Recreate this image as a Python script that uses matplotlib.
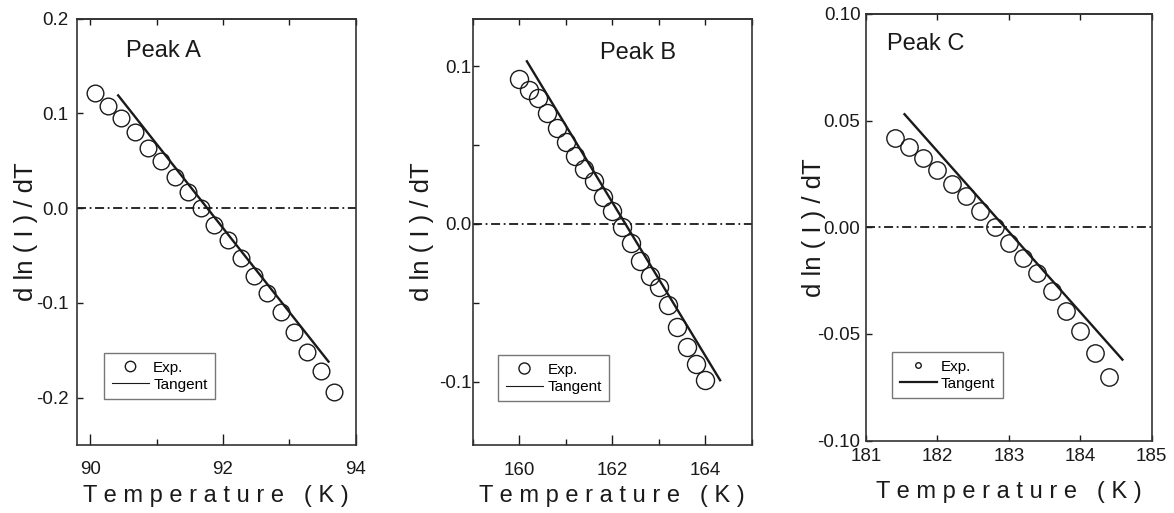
import matplotlib
matplotlib.use("Agg")
import matplotlib.pyplot as plt
from matplotlib.lines import Line2D
from matplotlib.ticker import MultipleLocator

plt.rcParams["font.family"] = ["Liberation Sans", "DejaVu Sans"]
plt.rcParams["axes.unicode_minus"] = False

# Peak A
temp_a = [90.07, 90.27, 90.47, 90.67, 90.87, 91.07, 91.27, 91.47, 91.67, 91.87,
          92.07, 92.27, 92.47, 92.67, 92.87, 93.07, 93.27, 93.47, 93.67]
dlni_a = [0.122, 0.108, 0.095, 0.080, 0.064, 0.050, 0.033, 0.0175, 0.0, -0.0175,
          -0.034, -0.0525, -0.072, -0.090, -0.1095, -0.131, -0.152, -0.172, -0.194]
tan_t_a = [90.42, 93.59]
tan_a = [0.119, -0.162]

# Peak B
temp_b = [160.0, 160.2, 160.4, 160.6, 160.8, 161.0, 161.2, 161.4, 161.6, 161.8, 162.0,
          162.2, 162.4, 162.6, 162.8, 163.0, 163.2, 163.4, 163.6, 163.8, 164.0]
dlni_b = [0.092, 0.085, 0.080, 0.070, 0.061, 0.052, 0.043, 0.035, 0.0275, 0.017, 0.008,
          -0.002, -0.012, -0.0235, -0.033, -0.040, -0.0515, -0.065, -0.078, -0.089, -0.099]
tan_t_b = [160.16, 164.32]
tan_b = [0.103, -0.099]

# Peak C
temp_c = [181.4, 181.6, 181.8, 182.0, 182.2, 182.4, 182.6, 182.8,
          183.0, 183.2, 183.4, 183.6, 183.8, 184.0, 184.2, 184.4]
dlni_c = [0.042, 0.0375, 0.0325, 0.027, 0.0205, 0.0145, 0.0075, 0.0,
          -0.0075, -0.0145, -0.0215, -0.030, -0.039, -0.0485, -0.059, -0.070]
tan_t_c = [181.54, 184.59]
tan_c = [0.053, -0.062]

ink = "#1a1a1a"
xlabel = "T e m p e r a t u r e   ( K )"
ylabel = "d ln ( I ) / dT"

fig = plt.figure(figsize=(11.74, 5.13), dpi=100)


def panel(rect, t, d, tt, tv, xlim, ylim, xmaj, xmin, ymaj, ymin, title, title_xy,
          ms, leg_xy, leg_ms, leg_lw, bot_len, xpad, ypad, ylab_x, xlab_y):
    ax = fig.add_axes(rect)
    ax.axhline(0, color=ink, lw=1.3, linestyle=(0, (5, 2, 1, 2)))
    ax.plot(t, d, "o", ms=ms, mfc="none", mec=ink, mew=1.0)
    ax.plot(tt, tv, "-", color=ink, lw=1.7)
    ax.set_xlim(*xlim)
    ax.set_ylim(*ylim)
    ax.xaxis.set_major_locator(MultipleLocator(xmaj))
    ax.yaxis.set_major_locator(MultipleLocator(ymaj))
    if xmin:
        ax.xaxis.set_minor_locator(MultipleLocator(xmin))
    if ymin:
        ax.yaxis.set_minor_locator(MultipleLocator(ymin))
    ax.tick_params(axis="x", which="major", direction="in", length=bot_len, width=1,
                   pad=xpad, labelsize=13.5, colors=ink)
    ax.tick_params(axis="x", which="minor", direction="in", length=4, width=1, colors=ink)
    ax.tick_params(axis="y", which="both", direction="in", length=4.5, width=1,
                   pad=ypad, labelsize=13.5, colors=ink)
    # short ticks along the top edge
    top = ax.secondary_xaxis("top")
    top.xaxis.set_major_locator(MultipleLocator(xmin if xmin else xmaj))
    top.tick_params(direction="in", length=4, width=1, labeltop=False, colors=ink)
    for sp in list(ax.spines.values()) + list(top.spines.values()):
        sp.set_linewidth(1.2)
        sp.set_color("#333333")
    ax.text(title_xy[0], title_xy[1], title, transform=ax.transAxes, fontsize=17,
            ha="left", va="center", color=ink)
    ax.set_xlabel(xlabel, fontsize=17, color=ink)
    ax.xaxis.set_label_coords(0.5, xlab_y)
    ax.set_ylabel(ylabel, fontsize=18.5, color=ink)
    ax.yaxis.set_label_coords(ylab_x, 0.5)
    handles = [Line2D([], [], ls="none", marker="o", ms=leg_ms, mfc="none", mec=ink, mew=1.0),
               Line2D([], [], color=ink, lw=leg_lw)]
    leg = ax.legend(handles, ["Exp.", "Tangent"], loc="lower left", bbox_to_anchor=leg_xy,
                    borderaxespad=0, fancybox=False, framealpha=1, edgecolor="#777777",
                    fontsize=11, handlelength=2.4, handletextpad=0.3, labelspacing=0.2,
                    borderpad=0.5)
    leg.get_frame().set_linewidth(1.0)
    return ax


panel([0.0656, 0.1326, 0.2374, 0.8310], temp_a, dlni_a, tan_t_a, tan_a,
      (89.8, 94.0), (-0.25, 0.2), 2, 1, 0.1, None, "Peak A", (0.175, 0.925),
      12, (0.098, 0.107), 7.5, 0.8, 8, 11.5, 6, -0.14, -0.095)

panel([0.4029, 0.1326, 0.2374, 0.8310], temp_b, dlni_b, tan_t_b, tan_b,
      (159.0, 165.0), (-0.14, 0.13), 2, 1, 0.1, 0.05, "Peak B", (0.455, 0.92),
      13, (0.091, 0.102), 8, 0.8, 7.5, 12, 1, -0.14, -0.095)

panel([0.7376, 0.1410, 0.2434, 0.8318], temp_c, dlni_c, tan_t_c, tan_c,
      (181.0, 185.0), (-0.1, 0.1), 1, None, 0.05, None, "Peak C", (0.075, 0.93),
      12.5, (0.092, 0.099), 4, 1.6, 4.5, 5, 4, -0.14, -0.095)

fig.savefig("out.png", dpi=100)
